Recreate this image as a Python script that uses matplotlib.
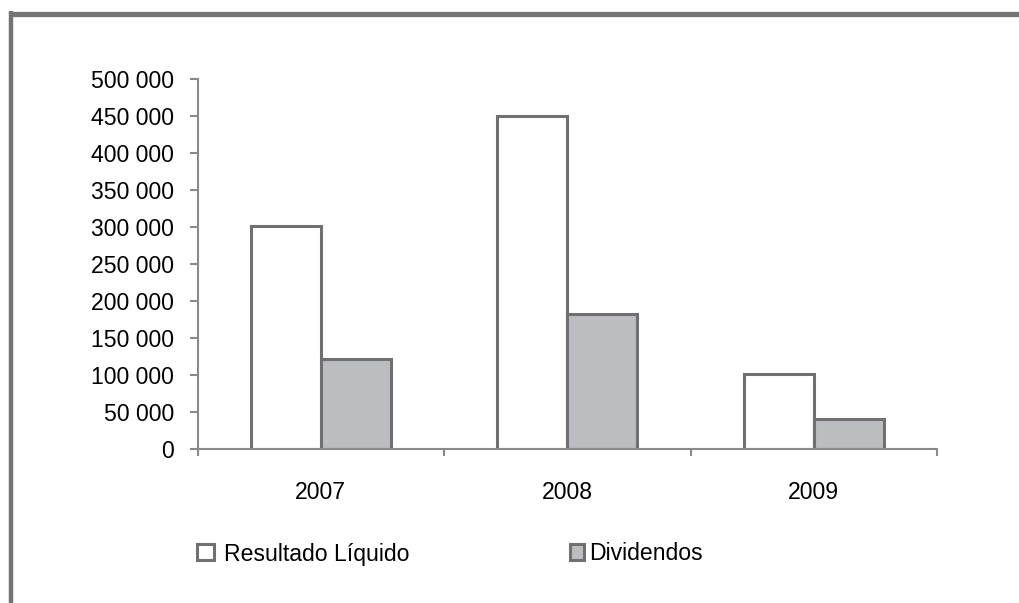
import numpy as np
import matplotlib.pyplot as plt
from matplotlib.lines import Line2D
from matplotlib.patches import Patch

plt.rcParams['font.family'] = ['Liberation Sans', 'DejaVu Sans']

# data
years = ['2007', '2008', '2009']
resultado = [301000, 450000, 101000]
dividendos = [121500, 182000, 41000]
yticks = np.arange(0, 500001, 50000)
ytick_labels = ['0', '50 000', '100 000', '150 000', '200 000', '250 000',
                '300 000', '350 000', '400 000', '450 000', '500 000']

W, H = 1019, 603
fig = plt.figure(figsize=(W / 100, H / 100), dpi=100)
ax = fig.add_axes([197.5 / W, 1 - 449 / H, (937 - 197.5) / W, (449 - 79) / H])

edge = '#707070'
axis_col = '#8a8a8a'
fs = 16.6
bw = 0.284
x = np.arange(len(years))

ax.bar(x - bw / 2, resultado, bw, color='white', edgecolor=edge, linewidth=2.2,
       label='Resultado Líquido', zorder=3)
ax.bar(x + bw / 2, dividendos, bw, color='#bcbdc0', edgecolor=edge, linewidth=2.2,
       label='Dividendos', zorder=3)

ax.set_xlim(-0.5, len(years) - 0.5)
ax.set_ylim(0, 500000)
ax.set_yticks(yticks)
ax.set_yticklabels(ytick_labels, fontsize=fs)

# category boundaries as tick marks, labels at the centers
ax.set_xticks(np.arange(-0.5, len(years), 1.0))
ax.set_xticklabels([])
ax.set_xticks(x, minor=True)
ax.set_xticklabels(years, minor=True, fontsize=fs)
ax.tick_params(axis='x', which='major', direction='out', length=5, width=1.5, color=axis_col)
ax.tick_params(axis='x', which='minor', length=0, pad=23)
ax.tick_params(axis='y', direction='out', length=6, width=1.5, color=axis_col, pad=11)

for s in ['top', 'right']:
    ax.spines[s].set_visible(False)
for s in ['left', 'bottom']:
    ax.spines[s].set_color(axis_col)
    ax.spines[s].set_linewidth(1.5)
    ax.spines[s].set_zorder(4)

# legend, two parts like the original
h1 = Patch(facecolor='white', edgecolor=edge, linewidth=2.2)
h2 = Patch(facecolor='#bcbdc0', edgecolor=edge, linewidth=2.2)
fig.legend([h1], ['Resultado Líquido'], loc='center left', bbox_to_anchor=(197 / W, 1 - 554 / H),
           frameon=False, fontsize=fs, handlelength=0.72, handleheight=0.68, handletextpad=0.45,
           borderpad=0, borderaxespad=0)
fig.legend([h2], ['Dividendos'], loc='center left', bbox_to_anchor=(570 / W, 1 - 554 / H),
           frameon=False, fontsize=fs, handlelength=0.62, handleheight=0.68, handletextpad=0.2,
           borderpad=0, borderaxespad=0)

# outer frame (top and left only visible)
frame_col = '#737373'
fig.add_artist(Line2D([9 / W, 1], [1 - 13.5 / H, 1 - 13.5 / H], transform=fig.transFigure,
                      color=frame_col, linewidth=3.8, solid_capstyle='butt'))
fig.add_artist(Line2D([11 / W, 11 / W], [0, 1 - 11 / H], transform=fig.transFigure,
                      color=frame_col, linewidth=3.2, solid_capstyle='butt'))

fig.savefig('out.png', dpi=100)
